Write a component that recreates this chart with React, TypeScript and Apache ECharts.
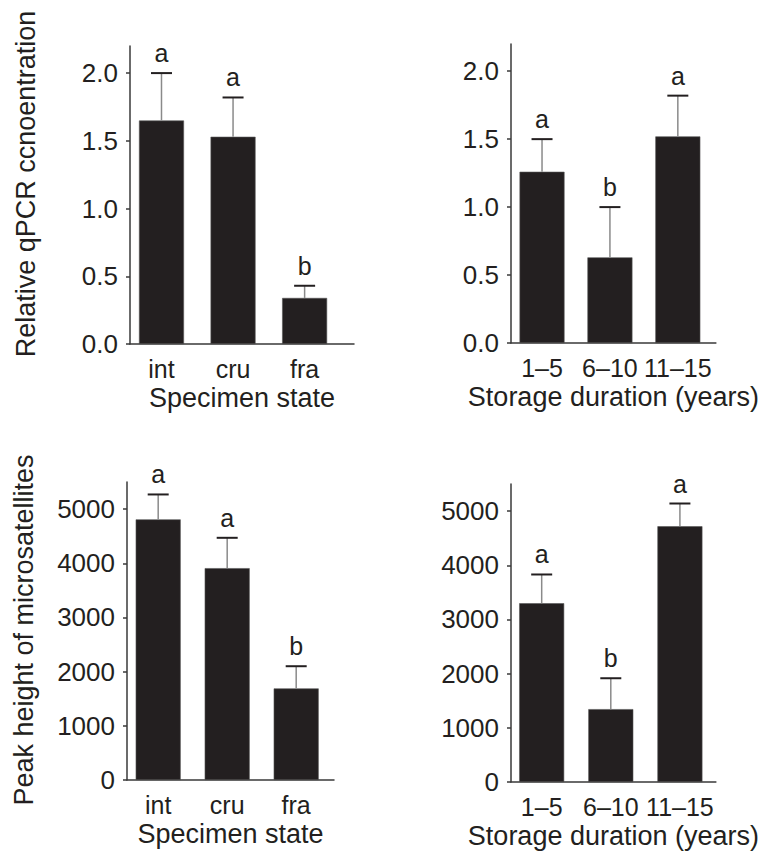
import React, { useEffect, useRef } from "react";
import * as echarts from "echarts";

// ---- data ----
const stateCats = ["int", "cru", "fra"];
const durationCats = ["1–5", "6–10", "11–15"];

const qpcrStateMeans = [1.65, 1.53, 0.34];
const qpcrStateErrTops = [2.0, 1.82, 0.43];
const qpcrStateLetters = ["a", "a", "b"];

const qpcrDurMeans = [1.26, 0.63, 1.52];
const qpcrDurErrTops = [1.5, 1.0, 1.82];
const qpcrDurLetters = ["a", "b", "a"];

const peakStateMeans = [4810, 3910, 1690];
const peakStateErrTops = [5270, 4470, 2100];
const peakStateLetters = ["a", "a", "b"];

const peakDurMeans = [3300, 1345, 4720];
const peakDurErrTops = [3830, 1915, 5140];
const peakDurLetters = ["a", "b", "a"];

const qpcrTicks = [0, 0.5, 1.0, 1.5, 2.0];
const peakTicks = [0, 1000, 2000, 3000, 4000, 5000];

const yTitleTop = "Relative qPCR ccnoentration";
const yTitleBottom = "Peak height of microsatellites";
const xTitleState = "Specimen state";
const xTitleDur = "Storage duration (years)";

// ---- style ----
const FONT = "Liberation Sans, Arial, Helvetica, sans-serif";
const INK = "#231f20";
const AXIS = "#3a3a3a";

export default function App() {
  const ref = useRef<HTMLDivElement>(null);

  useEffect(() => {
    if (!ref.current) return;
    const chart = echarts.init(ref.current, undefined, { renderer: "svg" });

    const grids = [
      { left: 130, top: 46, width: 224, height: 298, xmin: -0.44, xmax: 2.69 },
      { left: 511, top: 44, width: 205, height: 299, xmin: -0.457, xmax: 2.56 },
      { left: 127, top: 482, width: 207, height: 298, xmin: -0.452, xmax: 2.548 },
      { left: 511, top: 484, width: 205, height: 298, xmin: -0.444, xmax: 2.52 },
    ];

    const panels = [
      { cats: stateCats, means: qpcrStateMeans, tops: qpcrStateErrTops, letters: qpcrStateLetters, ticks: qpcrTicks, ymax: 2.2, fmt: (v: number) => v.toFixed(1), title: xTitleState },
      { cats: durationCats, means: qpcrDurMeans, tops: qpcrDurErrTops, letters: qpcrDurLetters, ticks: qpcrTicks, ymax: 2.2, fmt: (v: number) => v.toFixed(1), title: xTitleDur },
      { cats: stateCats, means: peakStateMeans, tops: peakStateErrTops, letters: peakStateLetters, ticks: peakTicks, ymax: 5500, fmt: (v: number) => String(v), title: xTitleState },
      { cats: durationCats, means: peakDurMeans, tops: peakDurErrTops, letters: peakDurLetters, ticks: peakTicks, ymax: 5500, fmt: (v: number) => String(v), title: xTitleDur },
    ];

    const catIdx = [0, 1, 2];

    const option: any = {
      animation: false,
      backgroundColor: "#ffffff",
      grid: grids.map((g) => ({ left: g.left, top: g.top, width: g.width, height: g.height, containLabel: false })),
      xAxis: panels.map((p, i) => ({
        type: "value",
        gridIndex: i,
        min: grids[i].xmin,
        max: grids[i].xmax,
        name: p.title,
        nameLocation: "middle",
        nameGap: 40,
        nameTextStyle: { fontFamily: FONT, fontSize: 27, color: INK },
        axisLine: { show: true, onZero: false, lineStyle: { color: AXIS, width: 1.5 } },
        axisTick: { show: false },
        splitLine: { show: false },
        axisLabel: {
          customValues: catIdx,
          formatter: (v: number) => p.cats[Math.round(v)] ?? "",
          fontFamily: FONT,
          fontSize: 25,
          color: INK,
          margin: 12,
        },
      })),
      yAxis: panels.map((p, i) => ({
        type: "value",
        gridIndex: i,
        min: 0,
        max: p.ymax,
        axisLine: { show: true, onZero: false, lineStyle: { color: AXIS, width: 1.5 } },
        axisTick: { show: true, length: 4, customValues: p.ticks, lineStyle: { color: AXIS, width: 1.5 } },
        splitLine: { show: false },
        axisLabel: {
          customValues: p.ticks,
          formatter: (v: number) => p.fmt(v),
          fontFamily: FONT,
          fontSize: 26,
          color: INK,
          margin: 12,
        },
      })),
      series: [] as any[],
      graphic: [
        {
          type: "text",
          x: 25.5,
          y: 184,
          rotation: Math.PI / 2,
          style: { text: yTitleTop, font: `27px ${FONT}`, fill: INK, align: "center", verticalAlign: "middle" },
        },
        {
          type: "text",
          x: 24,
          y: 630,
          rotation: Math.PI / 2,
          style: { text: yTitleBottom, font: `27px ${FONT}`, fill: INK, align: "center", verticalAlign: "middle" },
        },
      ],
    };

    panels.forEach((p, i) => {
      option.series.push({
        type: "bar",
        xAxisIndex: i,
        yAxisIndex: i,
        barWidth: 45,
        itemStyle: { color: INK, borderColor: "#555", borderWidth: 0.6 },
        data: p.means.map((m, k) => [k, m]),
        z: 2,
      });
      option.series.push({
        type: "custom",
        xAxisIndex: i,
        yAxisIndex: i,
        z: 3,
        data: p.means.map((m, k) => [k, m, p.tops[k]]),
        renderItem: (params: any, api: any) => {
          const x = api.value(0);
          const base = api.coord([x, api.value(1)]);
          const top = api.coord([x, api.value(2)]);
          const half = 10.5;
          return {
            type: "group",
            children: [
              {
                type: "line",
                shape: { x1: base[0], y1: base[1], x2: top[0], y2: top[1] },
                style: { stroke: "#8a8a8a", lineWidth: 1.5 },
              },
              {
                type: "line",
                shape: { x1: top[0] - half, y1: top[1], x2: top[0] + half, y2: top[1] },
                style: { stroke: INK, lineWidth: 2 },
              },
              {
                type: "text",
                x: top[0],
                y: top[1] - 20,
                style: {
                  text: p.letters[params.dataIndex],
                  font: `25px ${FONT}`,
                  fill: INK,
                  align: "center",
                  verticalAlign: "middle",
                },
              },
            ],
          };
        },
      });
    });

    chart.setOption(option);
    return () => chart.dispose();
  }, []);

  return (
    <div
      ref={ref}
      style={{ position: "absolute", left: 0, top: 0, width: 761, height: 852, background: "#fff" }}
    />
  );
}
